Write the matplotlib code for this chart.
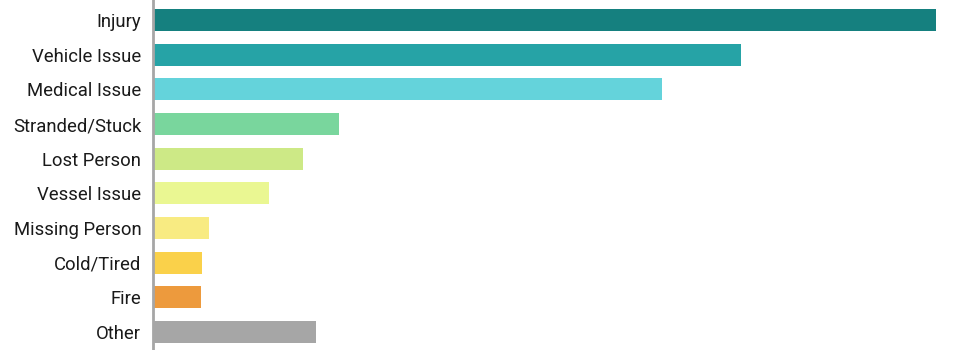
import matplotlib
matplotlib.use("Agg")
import matplotlib.pyplot as plt

categories = ["Injury", "Vehicle Issue", "Medical Issue", "Stranded/Stuck",
              "Lost Person", "Vessel Issue", "Missing Person", "Cold/Tired",
              "Fire", "Other"]
values = [783, 588, 509, 186, 150, 116, 56, 49, 48, 163]
colors = ["#15807f", "#26a3a6", "#64d3db", "#79d69d", "#cde986",
          "#eaf792", "#f8eb82", "#fad14a", "#ed9a3d", "#a6a6a6"]

plt.rcParams['font.family'] = ['Roboto', 'DejaVu Sans']

fig = plt.figure(figsize=(9.6, 3.5), dpi=100)
ax = fig.add_axes([153 / 960, 0, 1 - 153 / 960, 1])

pos = list(range(len(categories)))
ax.barh(pos, values, height=0.64, color=colors)

ax.set_ylim(len(categories) - 1 + 0.519, -0.577)
ax.set_xlim(0, max(values) * 807 / 783)
ax.set_yticks(pos)
ax.set_yticklabels(categories, fontsize=13.3, color="#1a1a1a")
ax.tick_params(axis='y', length=0, pad=8.5)
ax.set_xticks([])
for s in ["top", "right", "bottom"]:
    ax.spines[s].set_visible(False)
ax.spines["left"].set_color("#a6a6a6")
ax.spines["left"].set_linewidth(2)

fig.savefig("out.png", dpi=100)
